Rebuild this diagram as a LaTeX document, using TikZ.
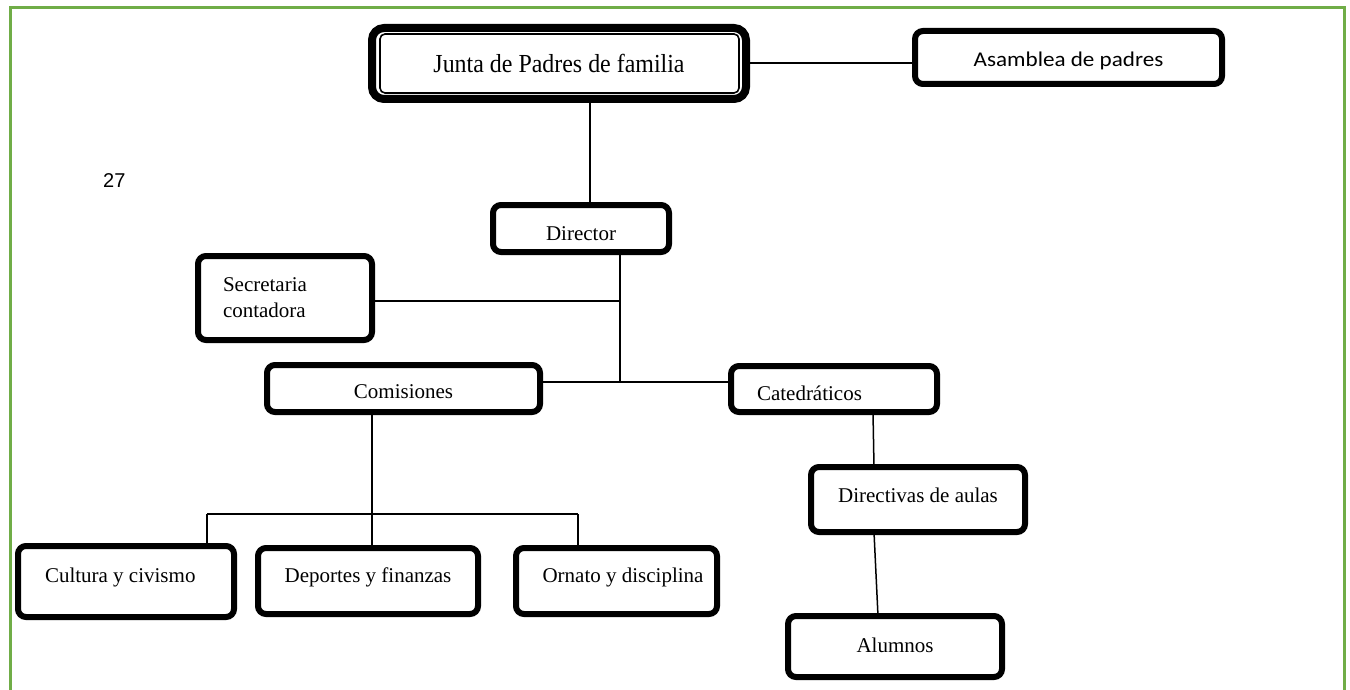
\documentclass[tikz,border=0pt]{standalone}
\usepackage{fontspec}
\setmainfont{Liberation Serif}
\newfontfamily\calibfont{Carlito}
\newfontfamily\arialfont{Liberation Sans}
\usetikzlibrary{calc}
\definecolor{framegreen}{RGB}{112,173,71}
\tikzset{
  orgbox/.style={draw, line width=6pt, rounded corners=8pt, inner sep=0pt, outer sep=0pt,
    fill=white, font=\fontsize{21}{26}\selectfont, text depth=0pt},
  link/.style={line width=1.5pt},
}
\begin{document}
\begin{tikzpicture}[x=1pt,y=-1pt]
\useasboundingbox (0,0) rectangle (1350,690);
% green frame
\draw[framegreen, line width=3pt] (10,690) -- (10,8) -- (1344,8) -- (1344,690);

% page number
\node[anchor=base west, inner sep=0pt, font=\arialfont\fontsize{20}{24}\selectfont] (pg) at (103,187) {27};

% Junta (double border)
\node[draw, line width=8pt, rounded corners=12pt, inner sep=0pt, outer sep=0pt, fill=white,
  minimum width=374pt, minimum height=71pt, text height=19pt, text depth=0pt,
  font=\fontsize{26}{30}\selectfont] (J) at (559,63.5) {\scalebox{0.92}[1]{Junta de Padres de familia}};
\draw[line width=1.6pt, rounded corners=5pt] ($(J.north west)+(8,6)$) rectangle ($(J.south east)+(-7,-6)$);

\node[orgbox, minimum width=307pt, minimum height=53pt, text height=19pt,
  font=\calibfont\fontsize{21}{26}\selectfont] (A) at (1068.5,57.5) {\scalebox{1.1}[1]{Asamblea de padres}};

\node[orgbox, minimum width=176pt, minimum height=47pt, text height=23pt] (D) at (581,228.5) {Director};

\node[orgbox, minimum width=174pt, minimum height=84pt, text width=124pt, align=flush left, text depth=] (S) at (285,298) {Secretaria\\contadora};

\node[orgbox, minimum width=273pt, minimum height=47pt, text height=19pt] (C) at (403.5,388.5) {Comisiones};

\node[orgbox, minimum width=206pt, minimum height=46pt, text height=22pt, text width=154pt, align=flush left] (K) at (834,389) {Catedráticos};

\node[orgbox, minimum width=214pt, minimum height=65pt, text height=5pt] (V) at (918,499.5) {Directivas de aulas};

\node[orgbox, minimum width=214pt, minimum height=61pt, text height=11pt] (L) at (895,646.5) {Alumnos};

\node[orgbox, minimum width=216pt, minimum height=71pt, text height=1pt, text width=162pt, align=flush left] (Cu) at (126,581.5) {Cultura y civismo};

\node[orgbox, minimum width=220pt, minimum height=66pt, text height=2pt] (Dp) at (368,581) {Deportes y finanzas};

\node[orgbox, minimum width=201pt, minimum height=66pt, text height=2pt, text width=174pt, align=flush right] (O) at (616.5,581) {Ornato y disciplina};

% connectors
\coordinate (hub) at (620,382);
\coordinate (bar) at (372,514);
\draw[link] (J.east |- 0,63) -- (A.west |- 0,63);
\draw[link] ([xshift=31pt]J.south) -- ([xshift=31pt]J.south |- D.north);
\draw[link] (D.south -| hub) -- (hub);
\draw[link] (S.east |- 0,301) -- (hub |- 0,301);
\draw[link] (hub -| C.east) -- (hub -| K.west);
\draw[link] ([xshift=39pt]K.south) -- ([xshift=-44pt]V.north);
\draw[link] ([xshift=-44pt]V.south) -- ([xshift=-17pt]L.north);
\draw[link] (C.south -| bar) -- (Dp.north -| bar);
\draw[link] (bar -| 207,0) -- (bar -| 578,0);
\draw[link] (bar -| 207,0) -- (Cu.north -| 207,0);
\draw[link] (bar -| 578,0) -- (O.north -| 578,0);
\end{tikzpicture}
\end{document}
